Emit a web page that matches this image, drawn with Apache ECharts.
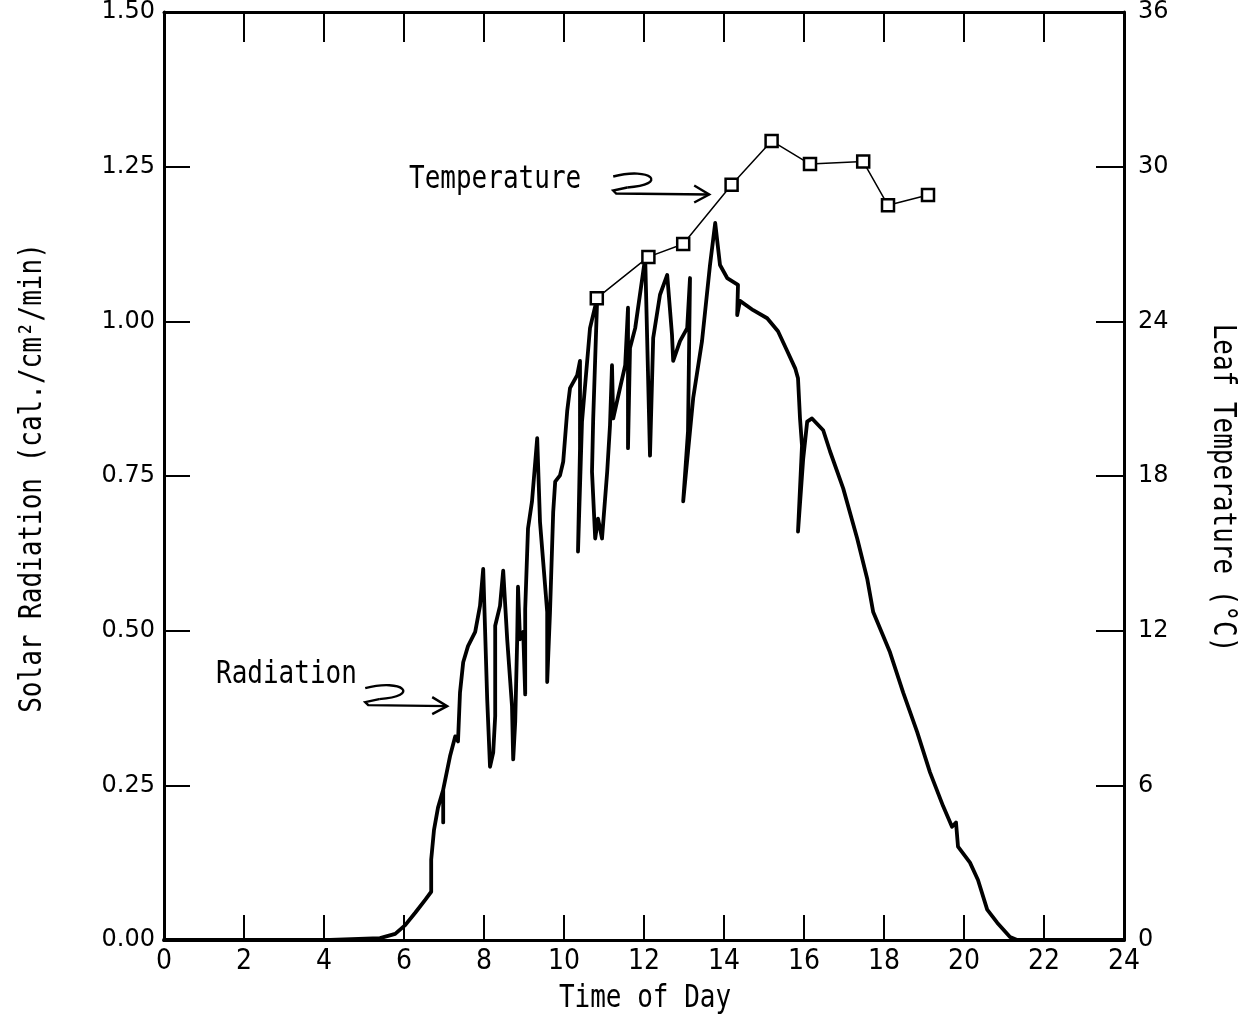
<!DOCTYPE html>
<html>
<head>
<meta charset="utf-8">
<script src="https://cdn.jsdelivr.net/npm/echarts/dist/echarts.min.js"></script>
<style>
html,body{margin:0;padding:0;background:#fff;}
#chart{width:1241px;height:1017px;}
</style>
</head>
<body>
<div id="chart"></div>
<script>
// ---- Data ----
const xTicks = [0, 2, 4, 6, 8, 10, 12, 14, 16, 18, 20, 22, 24];
const leftTicks = ['0.00', '0.25', '0.50', '0.75', '1.00', '1.25', '1.50'];
const rightTicks = ['0', '6', '12', '18', '24', '30', '36'];

// Solar radiation trace (time of day in hours, cal./cm2/min)
const radHours = [0, 4.15, 5.4, 5.78, 6.03, 6.28, 6.53, 6.68, 6.68, 6.75, 6.85, 6.98, 6.98, 6.98, 7.15, 7.28, 7.35, 7.4, 7.48, 7.6,
  7.78, 7.9, 7.98, 8.08, 8.15, 8.23, 8.28, 8.28, 8.4, 8.48, 8.58, 8.7, 8.73, 8.78, 8.83, 8.85, 8.9, 8.98, 9.03, 9.03,
  9.1, 9.2, 9.33, 9.4, 9.48, 9.58, 9.58, 9.65, 9.73, 9.78, 9.9, 9.98, 10.08, 10.15, 10.33, 10.4, 10.4, 10.35, 10.45, 10.65,
  10.83, 10.73, 10.7, 10.78, 10.85, 10.95, 11.08, 11.15, 11.2, 11.23, 11.4, 11.53, 11.6, 11.6, 11.65, 11.78, 12.03, 12.15, 12.23, 12.4,
  12.58, 12.7, 12.73, 12.9, 13.08, 13.15, 13.1, 12.98, 13.23, 13.45, 13.65, 13.78, 13.9, 14.08, 14.35, 14.33, 14.4, 14.73, 15.08, 15.35,
  15.58, 15.78, 15.85, 15.9, 15.95, 15.85, 15.98, 16.08, 16.2, 16.48, 16.65, 16.98, 17.33, 17.58, 17.73, 18.15, 18.48, 18.83, 19.15, 19.48,
  19.7, 19.8, 19.85, 20.15, 20.35, 20.58, 20.83, 21.15, 21.33, 24];
const radValues = [0, 0, 0.003, 0.01, 0.024, 0.044, 0.065, 0.078, 0.13, 0.178, 0.214, 0.243, 0.19, 0.243, 0.297, 0.329, 0.321, 0.40, 0.449, 0.475,
  0.498, 0.54, 0.60, 0.389, 0.28, 0.303, 0.362, 0.508, 0.54, 0.597, 0.486, 0.378, 0.292, 0.352, 0.486, 0.571, 0.486, 0.498, 0.397, 0.535,
  0.665, 0.709, 0.811, 0.676, 0.611, 0.53, 0.417, 0.53, 0.692, 0.741, 0.751, 0.773, 0.855, 0.892, 0.913, 0.936, 0.795, 0.628, 0.838, 0.989,
  1.038, 0.843, 0.757, 0.649, 0.681, 0.649, 0.757, 0.832, 0.929, 0.843, 0.892, 0.929, 1.022, 0.795, 0.957, 0.989, 1.103, 0.783, 0.973, 1.043,
  1.075, 0.978, 0.936, 0.968, 0.989, 1.07, 0.822, 0.709, 0.876, 0.968, 1.091, 1.159, 1.091, 1.07, 1.059, 1.01, 1.033, 1.018, 1.005, 0.984,
  0.952, 0.924, 0.908, 0.843, 0.799, 0.66, 0.778, 0.838, 0.843, 0.824, 0.79, 0.73, 0.649, 0.584, 0.53, 0.465, 0.40, 0.336, 0.271, 0.216,
  0.183, 0.19, 0.151, 0.125, 0.097, 0.049, 0.028, 0.005, 0, 0];

// Leaf temperature (time of day in hours, deg C)
const tempHours = [10.82, 12.11, 12.98, 14.19, 15.19, 16.15, 17.48, 18.1, 19.1];
const tempValues = [24.9, 26.5, 27.0, 29.3, 31.0, 30.1, 30.2, 28.5, 28.9];

// Annotation arrow tips (in data coordinates of the radiation axis)
const tempArrowTip = [13.63, 1.205];
const radArrowTip = [7.08, 0.378];

// ---- Chart ----
const radData = radHours.map((h, i) => [h, radValues[i]]);
const tempData = tempHours.map((h, i) => [h, tempValues[i]]);

const monoFont = "'DejaVu Sans Mono', 'Liberation Mono', monospace";
const sansFont = "'DejaVu Sans', 'Liberation Sans', sans-serif";
const narrowFont = "'Liberation Sans Narrow', 'DejaVu Sans Condensed', 'DejaVu Sans', sans-serif";

const chart = echarts.init(document.getElementById('chart'), null, {renderer: 'canvas'});

const frameLine = {show: true, onZero: false, lineStyle: {color: '#000', width: 3}};

const option = {
  backgroundColor: '#fff',
  animation: false,
  grid: {left: 164, right: 117, top: 12, bottom: 77, containLabel: false, outerBoundsMode: 'none'},
  xAxis: [
    {
      type: 'value', min: 0, max: 24, interval: 2, position: 'bottom',
      axisLine: frameLine,
      axisTick: {show: true, inside: true, length: 25, lineStyle: {color: '#000', width: 2}},
      axisLabel: {color: '#000', fontSize: 28, fontFamily: narrowFont, margin: 8,
        formatter: v => String(xTicks[xTicks.indexOf(v)])},
      splitLine: {show: false}
    },
    {
      type: 'value', min: 0, max: 24, interval: 2, position: 'top',
      axisLine: frameLine,
      axisTick: {show: true, inside: true, length: 30, lineStyle: {color: '#000', width: 2}},
      axisLabel: {show: false},
      splitLine: {show: false}
    }
  ],
  yAxis: [
    {
      type: 'value', min: 0, max: 1.5, interval: 0.25, position: 'left',
      axisLine: frameLine,
      axisTick: {show: true, inside: true, length: 26, lineStyle: {color: '#000', width: 2}},
      axisLabel: {color: '#000', fontSize: 24, fontFamily: sansFont, margin: 9,
        formatter: v => leftTicks[Math.round(v / 0.25)]},
      splitLine: {show: false}
    },
    {
      type: 'value', min: 0, max: 36, interval: 6, position: 'right',
      axisLine: frameLine,
      axisTick: {show: true, inside: true, length: 28, lineStyle: {color: '#000', width: 2}},
      axisLabel: {color: '#000', fontSize: 24, fontFamily: sansFont, margin: 14,
        formatter: v => rightTicks[Math.round(v / 6)]},
      splitLine: {show: false}
    }
  ],
  series: [
    {
      name: 'Radiation', type: 'line', xAxisIndex: 0, yAxisIndex: 0,
      data: radData, showSymbol: false, symbol: 'none', smooth: false,
      lineStyle: {color: '#000', width: 3.8, join: 'round', cap: 'round'},
      z: 3
    },
    {
      name: 'Temperature', type: 'line', xAxisIndex: 0, yAxisIndex: 1,
      data: tempData, symbol: 'rect', symbolSize: 12,
      itemStyle: {color: '#fff', borderColor: '#000', borderWidth: 2.5},
      lineStyle: {color: '#000', width: 1.5},
      z: 4
    }
  ]
};
chart.setOption(option);

// ---- Text and annotation arrows ----
const tp = chart.convertToPixel({xAxisIndex: 0, yAxisIndex: 0}, tempArrowTip);
const rp = chart.convertToPixel({xAxisIndex: 0, yAxisIndex: 0}, radArrowTip);

const arrowStyle = {stroke: '#000', fill: null, lineWidth: 2.4};

function squiggleArrow(tip, len) {
  const tx = tip[0], ty = tip[1];
  const sx = tx - len;
  return [
    {
      type: 'bezierCurve', silent: true,
      shape: {x1: sx, y1: ty - 18, cpx1: sx + 38, cpy1: ty - 28, cpx2: sx + 56, cpy2: ty - 10, x2: sx + 14, y2: ty - 7},
      style: arrowStyle
    },
    {
      type: 'polyline', silent: true,
      shape: {points: [[sx + 14, ty - 7], [sx, ty - 4], [sx + 3, ty - 1], [tx, ty]]},
      style: arrowStyle
    },
    {
      type: 'polyline', silent: true,
      shape: {points: [[tx - 15, ty - 9], [tx, ty], [tx - 15, ty + 8]]},
      style: arrowStyle
    }
  ];
}

function label(text, x, y, rot, align) {
  return {
    type: 'text', x: x, y: y, rotation: rot, scaleY: 1.2, silent: true,
    style: {text: text, fontSize: 26, fontFamily: monoFont, fill: '#000', align: align, verticalAlign: 'middle'}
  };
}

chart.setOption({
  graphic: [
    label('Time of Day', 645, 999, 0, 'center'),
    label('Solar Radiation (cal./cm²/min)', 33, 478, Math.PI / 2, 'center'),
    label('Leaf Temperature (°C)', 1222, 488, -Math.PI / 2, 'center'),
    label('Temperature', 409, 180, 0, 'left'),
    label('Radiation', 216, 675, 0, 'left')
  ].concat(squiggleArrow(tp, 96)).concat(squiggleArrow(rp, 82))
});
</script>
</body>
</html>
